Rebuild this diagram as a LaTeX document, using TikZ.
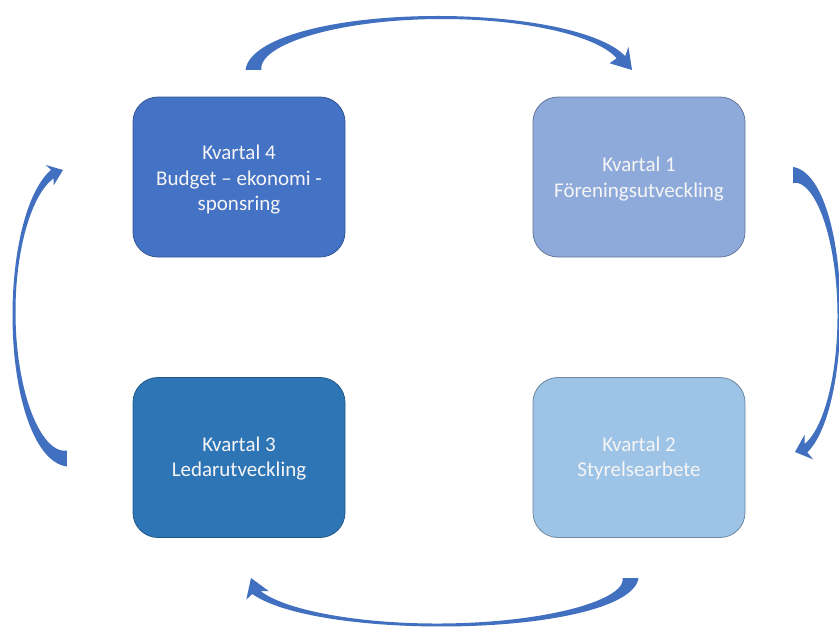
\documentclass[tikz,border=0pt]{standalone}
\usepackage{fontspec}
\setmainfont{Carlito}
\definecolor{arrowblue}{HTML}{4270C0}
\definecolor{qfour}{HTML}{4472C4}
\definecolor{qone}{HTML}{8EAADB}
\definecolor{qthree}{HTML}{2E75B6}
\definecolor{qtwo}{HTML}{9DC3E6}
% curved tapering arrow: cx cy rx ry t0 t1 tipx tipy headhalf
\newcommand\cyclearrow[9]{%
  \pgfmathsetmacro\caPx{#1+#3*cos(#6)}%
  \pgfmathsetmacro\caPy{#2-#4*sin(#6)}%
  \pgfmathsetmacro\caDx{#7-\caPx}%
  \pgfmathsetmacro\caDy{#8-\caPy}%
  \pgfmathsetmacro\caDl{sqrt(\caDx*\caDx+\caDy*\caDy)}%
  \pgfmathsetmacro\caUx{\caDx/\caDl}%
  \pgfmathsetmacro\caUy{\caDy/\caDl}%
  \pgfmathsetmacro\caNx{-\caUy}%
  \pgfmathsetmacro\caNy{\caUx}%
  \pgfmathsetmacro\caD{\caNx*cos(#6)-\caNy*sin(#6)}%
  \pgfmathsetmacro\caS{(\caD>=0)?1:-1}%
  \pgfmathsetmacro\caBox{\caPx+\caS*#9*\caNx-3*\caUx}%
  \pgfmathsetmacro\caBoy{\caPy+\caS*#9*\caNy-3*\caUy}%
  \pgfmathsetmacro\caBix{\caPx-\caS*#9*\caNx-3*\caUx}%
  \pgfmathsetmacro\caBiy{\caPy-\caS*#9*\caNy-3*\caUy}%
  \fill[arrowblue]
    plot[domain=0:1,samples=90,variable=\s]
      ({#1+(#3+0.5*(16-44*\s+37*\s*\s))*cos(#5+(#6-#5)*\s)},
       {#2-(#4+0.5*(16-44*\s+37*\s*\s))*sin(#5+(#6-#5)*\s)})
    -- (\caBox,\caBoy) -- (#7,#8) -- (\caBix,\caBiy)
    -- plot[domain=0:1,samples=90,variable=\s]
      ({#1+(#3-0.5*(16-44*(1-\s)+37*(1-\s)*(1-\s)))*cos(#5+(#6-#5)*(1-\s))},
       {#2-(#4-0.5*(16-44*(1-\s)+37*(1-\s)*(1-\s)))*sin(#5+(#6-#5)*(1-\s))})
    -- cycle;%
}
\begin{document}
\begin{tikzpicture}[x=1pt,y=-1pt,
  quarter/.style={rectangle,rounded corners=25pt,minimum width=212pt,
    minimum height=160pt,inner sep=0pt,align=center,text=white!96!black,
    line width=0.8pt,font=\fontsize{21}{25.5}\selectfont},
  qlabel/.style={align=center,text=white!96!black,inner sep=0pt,
    font=\fontsize{21}{25.5}\selectfont}]
\useasboundingbox (0,0) rectangle (839,630);
\fill[white] (0,0) rectangle (839,630);
\node[quarter,fill=qfour,draw=qfour!75!black] (q4) at (239,177) {};
\node[qlabel] (t4) at ([yshift=-3pt]q4.center) {Kvartal 4\\Budget -- ekonomi -\\sponsring};
\node[quarter,fill=qone,draw=qone!70!black] (q1) at (639,177) {};
\node[qlabel] (t1) at ([yshift=-2pt]q1.center) {Kvartal 1\\Föreningsutveckling};
\node[quarter,fill=qthree,draw=qthree!75!black] (q3) at (239,457.5) {};
\node[qlabel] (t3) at ([yshift=-1pt]q3.center) {Kvartal 3\\Ledarutveckling};
\node[quarter,fill=qtwo,draw=qtwo!70!black] (q2) at (639,457.5) {};
\node[qlabel] (t2) at ([yshift=-1pt]q2.center) {Kvartal 2\\Styrelsearbete};
% top arrow (Q4 -> Q1)
\cyclearrow{440}{70}{186.5}{52.5}{180}{14}{632}{70}{12.5}
% right arrow (Q1 -> Q2)
\cyclearrow{793}{314.4}{46}{139.4}{90}{-73.6}{795}{452}{13}
% bottom arrow (Q2 -> Q3)
\cyclearrow{438.8}{578}{191.7}{47}{360}{198}{251}{578}{12}
% left arrow (Q3 -> Q4)
\cyclearrow{67}{313.5}{53}{145}{270}{106}{63}{170}{11}
\end{tikzpicture}
\end{document}
